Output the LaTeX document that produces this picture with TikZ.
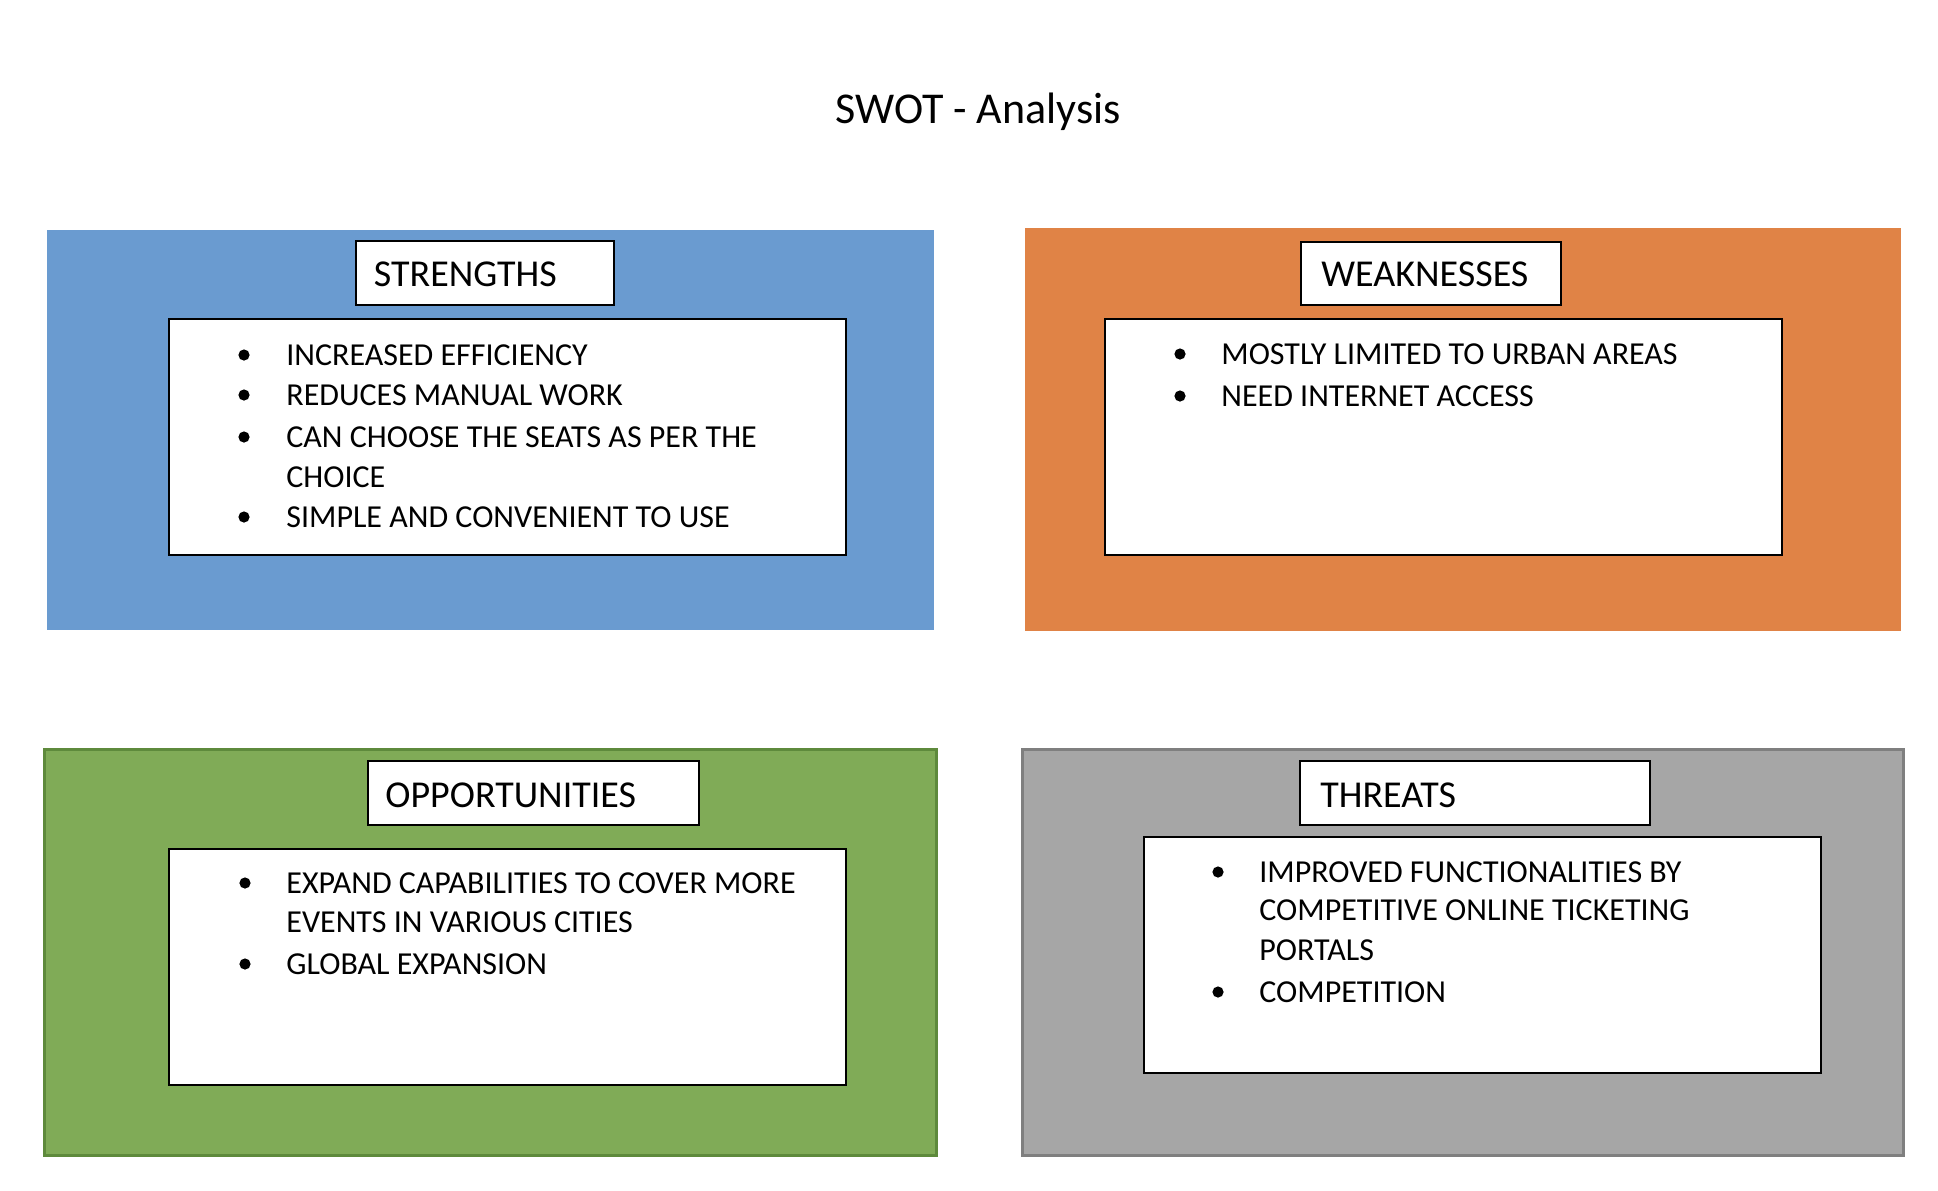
\documentclass[tikz,border=0pt]{standalone}
\usepackage{fontspec}
\setmainfont{Carlito}
\definecolor{sblue}{HTML}{6A9BD0}
\definecolor{worange}{HTML}{E08346}
\definecolor{ogreen}{HTML}{80AB57}
\definecolor{ogreenline}{HTML}{5E8A3C}
\definecolor{tgray}{HTML}{A6A6A6}
\definecolor{tgrayline}{HTML}{7F7F7F}
\tikzset{
  whitebox/.style={fill=white, draw=black, line width=0.7pt},
  bodytext/.style={anchor=base west, inner sep=0pt, font=\fontsize{16}{19}\selectfont},
  headtext/.style={anchor=base west, inner sep=0pt, font=\fontsize{19}{23}\selectfont},
  bul/.style={circle, fill=black, inner sep=0pt, minimum size=5.6pt},
}
\begin{document}
\begin{tikzpicture}[x=0.5pt, y=-0.5pt]
\useasboundingbox (0,0) rectangle (1938,1190);
\fill[white] (0,0) rectangle (1938,1190);

% title
\node[anchor=base, inner sep=0pt, font=\fontsize{22}{26}\selectfont] (title) at (978,123) {SWOT - Analysis};

% panels
\fill[sblue] (47,230) rectangle (934,630);
\fill[worange] (1025,228) rectangle (1901,631);
\filldraw[fill=ogreen, draw=ogreenline, line width=1.5pt] (44.5,749.5) rectangle (936.5,1155.5);
\filldraw[fill=tgray, draw=tgrayline, line width=1.5pt] (1022.5,749.5) rectangle (1903.5,1155.5);

% header boxes
\draw[whitebox] (356,241) rectangle (614,305);
\draw[whitebox] (1301,242) rectangle (1561,305);
\draw[whitebox] (368,761) rectangle (699,825);
\draw[whitebox] (1300,761) rectangle (1650,825);

% content boxes
\draw[whitebox] (169,319) rectangle (846,555);
\draw[whitebox] (1105,319) rectangle (1782,555);
\draw[whitebox] (169,849) rectangle (846,1085);
\draw[whitebox] (1144,837) rectangle (1821,1073);

% headers
\node[headtext] (hs) at (373.5,286) {STRENGTHS};
\node[headtext] (hw) at (1321,286) {WEAKNESSES};
\node[headtext] (ho) at (385,807) {OPPORTUNITIES};
\node[headtext] (ht) at (1320,807) {THREATS};

% strengths
\node[bul] (sb1) at (244,355) {};
\node[bodytext] (s1) at (286,365) {INCREASED EFFICIENCY};
\node[bul] (sb2) at (244,395) {};
\node[bodytext] (s2) at (286,405) {REDUCES MANUAL WORK};
\node[bul] (sb3) at (244,437) {};
\node[bodytext] (s3) at (286,447) {CAN CHOOSE THE SEATS AS PER THE};
\node[bodytext] (s3b) at (286,487) {CHOICE};
\node[bul] (sb4) at (244,517) {};
\node[bodytext] (s4) at (286,527) {SIMPLE AND CONVENIENT TO USE};

% weaknesses
\node[bul] (wb1) at (1180,354) {};
\node[bodytext] (w1) at (1221,364) {MOSTLY LIMITED TO URBAN AREAS};
\node[bul] (wb2) at (1180,396) {};
\node[bodytext] (w2) at (1221,406) {NEED INTERNET ACCESS};

% opportunities
\node[bul] (ob1) at (245,883) {};
\node[bodytext] (o1) at (286,893) {EXPAND CAPABILITIES TO COVER MORE};
\node[bodytext] (o1b) at (286,932) {EVENTS IN VARIOUS CITIES};
\node[bul] (ob2) at (245,964) {};
\node[bodytext] (o2) at (286,974) {GLOBAL EXPANSION};

% threats
\node[bul] (tb1) at (1218,872) {};
\node[bodytext] (t1) at (1259,882) {IMPROVED FUNCTIONALITIES BY};
\node[bodytext] (t1b) at (1259,920) {COMPETITIVE ONLINE TICKETING};
\node[bodytext] (t1c) at (1259,960) {PORTALS};
\node[bul] (tb2) at (1218,992) {};
\node[bodytext] (t2) at (1259,1002) {COMPETITION};
\end{tikzpicture}
\end{document}
